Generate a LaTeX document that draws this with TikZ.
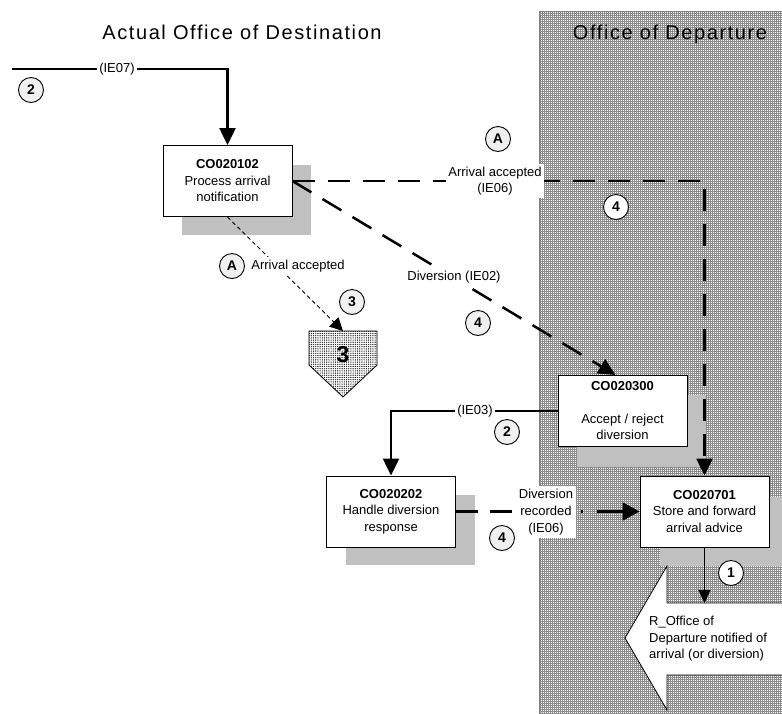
\documentclass[tikz,border=0pt]{standalone}
\usepackage{fontspec}
\setmainfont{Liberation Sans}
\usetikzlibrary{arrows.meta,patterns.meta}

\definecolor{shadowgray}{RGB}{192,192,192}

% fine grid texture for the departure side
\tikzdeclarepattern{
  name=finegrid,
  type=uncolored,
  bottom left={(-0.1pt,-0.1pt)},
  top right={(2.1pt,2.1pt)},
  tile size={(2pt,2pt)},
  code={
    \pgfsetlinewidth{0.6pt}
    \pgfpathmoveto{\pgfpoint{0pt}{0pt}}
    \pgfpathlineto{\pgfpoint{2pt}{0pt}}
    \pgfpathmoveto{\pgfpoint{0pt}{0pt}}
    \pgfpathlineto{\pgfpoint{0pt}{2pt}}
    \pgfusepath{stroke}
  }
}
% dotted texture for the off-page connector
\tikzdeclarepattern{
  name=dotgrid,
  type=uncolored,
  bottom left={(-0.1pt,-0.1pt)},
  top right={(2.3pt,2.3pt)},
  tile size={(2.2pt,2.2pt)},
  code={
    \pgfpathcircle{\pgfpoint{1.1pt}{1.1pt}}{0.7pt}
    \pgfusepath{fill}
  }
}

\begin{document}
\begin{tikzpicture}[x=1pt,y=-1pt,
  every node/.style={font=\fontsize{13}{16.5}\selectfont},
  proc/.style={draw, line width=1pt, fill=white, minimum width=129pt,
    minimum height=71pt, align=center, inner sep=2pt},
  dropshadow/.style={fill=shadowgray, draw=none},
  num/.style={circle, draw, line width=0.9pt, fill=gray!12, minimum size=25pt,
    inner sep=0pt, font=\fontsize{14}{14}\selectfont\bfseries},
  numw/.style={num, fill=white},
  lbl/.style={fill=white, inner sep=2.5pt, align=center},
  flow/.style={line width=2.5pt},
  big/.style={-{Triangle[length=17pt,width=16pt]}},
  longdash/.style={dash pattern=on 22pt off 13pt},
  dashdot/.style={dash pattern=on 22pt off 12pt on 22pt off 69pt on 2pt off 14pt on 40pt off 20pt},
  finedot/.style={line width=0.9pt, dash pattern=on 4pt off 3pt},
  heading/.style={font=\fontsize{20}{24}\selectfont\addfontfeature{LetterSpace=8}}
  ]
\useasboundingbox (0,0) rectangle (782,713);

% departure side
\fill[white] (539,11) rectangle (795,720);
\path[pattern=finegrid, pattern color=gray!90] (539,11) rectangle (795,720);
\draw[gray, line width=0.8pt] (539,720) -- (539,11) -- (795,11);

% headings
\node[heading] (hdest) at (242,32) {Actual Office of Destination};
\node[heading] (hdep) at (670,34) {Office of Departure};

% drop shadows
\fill[dropshadow] (182,165) rectangle (311,235);
\fill[dropshadow] (577,395) rectangle (706,467);
\fill[dropshadow] (346,495) rectangle (475,565);
\fill[dropshadow] (660,497) rectangle (795,566);

% processes
\node[proc] (b1) at (227.5,181) {\textbf{CO020102}\\Process arrival\\notification};
\node[proc] (b2) at (622.5,411) {\textbf{CO020300}\\[16pt]Accept / reject\\diversion};
\node[proc] (b3) at (391,511.5) {\textbf{CO020202}\\Handle diversion\\response};
\node[proc] (b4) at (704.5,511.5) {\textbf{CO020701}\\Store and forward\\arrival advice};

% off-page connector 3
\draw[line width=0.8pt, preaction={fill=white}, pattern=dotgrid, pattern color=black!85]
  (309,331) -- (377,331) -- (377,365) -- (343,397) -- (309,365) -- cycle;
\coordinate (p3top) at (343,331);
\node[font=\fontsize{23}{23}\selectfont\bfseries] (p3) at (343,355) {3};

% outgoing report arrow
\draw[line width=0.8pt, fill=white]
  (795,603) -- (667,603) -- (667,566) -- (625,638) -- (667,710) -- (667,675) -- (795,675);
\coordinate (blktop) at (704.5,603);
\node[align=left, anchor=west, inner sep=3pt,
  font=\fontsize{13}{16.5}\selectfont] (blk) at (646,639)
  {R\_Office of\\Departure notified of\\arrival (or diversion)};

% connectors
\coordinate (inA) at (12,69);
\draw[flow, big] (inA) -- (inA -| b1.north) -- (b1.north);
\draw[flow, longdash, big] (b1.east) -- (b1.east -| b4.north) -- (b4.north);
\draw[flow, longdash, big] (b1.east) -- ([xshift=-7pt]b2.north);
\draw[finedot, -{Triangle[length=13pt,width=13pt]}] (b1.south) -- (p3top);
\draw[flow, big] (b2.west) -- (b2.west -| b3.north) -- (b3.north);
\draw[flow, dashdot, -{Triangle[length=17pt,width=18pt]}] (b3.east) -- (b4.west);
\draw[line width=1pt, -{Triangle[length=13pt,width=12pt]}] (b4.south) -- (blktop);

% connector labels
\node[lbl] (lie07) at (117,69) {(IE07)};
\node[lbl] (lacc1) at (495,181) {Arrival accepted\\(IE06)};
\node[lbl] (lie02) at (454,277) {Diversion (IE02)};
\node[lbl] (lacc2) at (298,266) {Arrival accepted};
\node[lbl] (lie03) at (475,411) {(IE03)};
\node[lbl, font=\fontsize{13}{17}\selectfont] (lrec) at (546,512) {Diversion\\recorded\\(IE06)};

% step markers
\node[num] (n2a) at (31,90) {2};
\node[num] (nAa) at (498,139) {A};
\node[numw] (n4a) at (616,207) {4};
\node[num] (n4b) at (478,323) {4};
\node[num] (nAb) at (232,266) {A};
\node[num] (n3) at (352,302) {3};
\node[num] (n2b) at (507,432) {2};
\node[num] (n4c) at (502,538) {4};
\node[numw] (n1) at (731,573) {1};
\end{tikzpicture}
\end{document}
